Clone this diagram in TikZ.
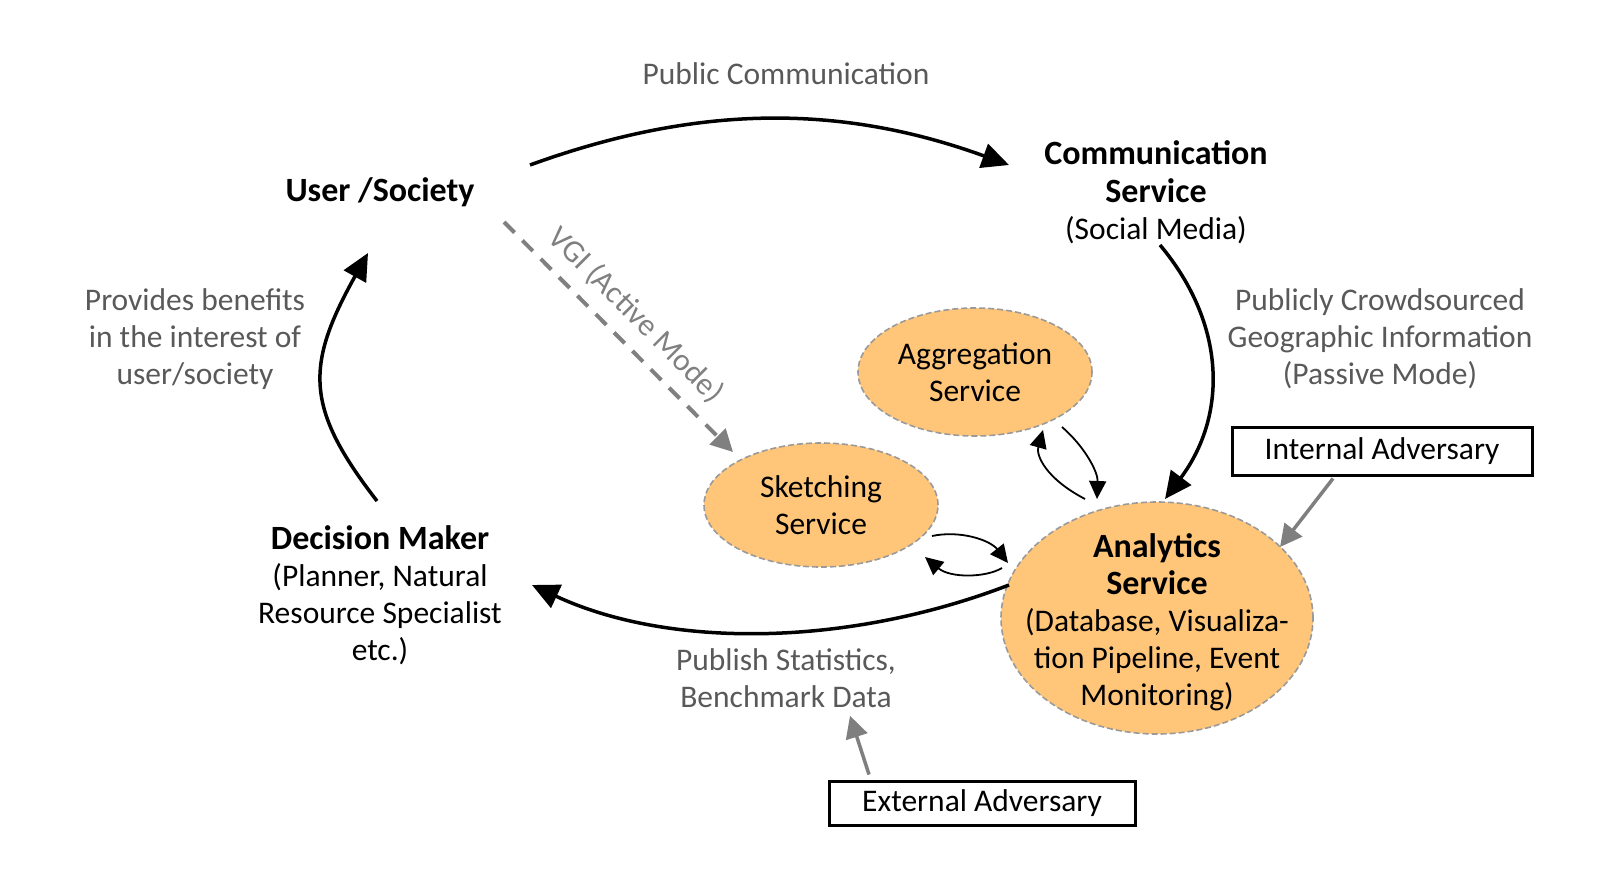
\documentclass[tikz,border=0pt]{standalone}
\usepackage{fontspec}
\setmainfont{Carlito}
\usetikzlibrary{arrows.meta,shapes.geometric,calc}
\definecolor{lblgray}{HTML}{595959}
\definecolor{vgigray}{HTML}{808080}
\definecolor{arrgray}{HTML}{7F7F7F}
\definecolor{svcfill}{HTML}{FFC67A}
\definecolor{svcborder}{HTML}{9A9A9A}
\newcommand{\hdfont}{\fontsize{34}{40}\selectfont\bfseries}
\begin{document}
\begin{tikzpicture}[x=1pt,y=-1pt,
  txt/.style={font=\fontsize{31.5}{37}\selectfont, align=center, inner sep=0pt},
  lbl/.style={txt, text=lblgray},
  hd/.style={font=\hdfont, align=center, inner sep=0pt},
  svc/.style={ellipse, draw=svcborder, dash pattern=on 6pt off 3pt, line width=1.6pt, fill=svcfill, inner sep=0pt, align=center, font=\fontsize{31.5}{37}\selectfont},
  adv/.style={draw=black, line width=3pt, inner sep=0pt, font=\fontsize{31.5}{37}\selectfont},
  flow/.style={line width=3.5pt, -{Triangle[length=27pt,width=25pt]}},
  smallflow/.style={line width=1.8pt, -{Triangle[length=18pt,width=17pt]}},
  grayflow/.style={draw=arrgray, line width=3.5pt, -{Triangle[length=22pt,width=22pt]}},
  vgiflow/.style={draw=vgigray, line width=4pt, dash pattern=on 15pt off 11pt, -{Triangle[length=22pt,width=22pt]}}]
\useasboundingbox (0,0) rectangle (1619,870);

% texts
\node[lbl] (pc) at (786,74) {Public Communication};
\node[hd] (us) at (380,192) {User /Society};
\node[txt] (cs) at (1156,192) {{\hdfont Communication}\\[1pt]{\hdfont Service}\\(Social Media)};
\node[txt] (dm) at (380,595) {{\hdfont Decision Maker}\\(Planner, Natural\\Resource Specialist\\etc.)};
\node[lbl] (pb) at (195,339) {Provides benefits\\in the interest of\\user/society};
\node[lbl] (pcg) at (1380,339) {Publicly Crowdsourced\\Geographic Information\\(Passive Mode)};
\node[lbl] (pub) at (786,678) {Publish Statistics,\\Benchmark Data};

% services
\node[svc, minimum width=234pt, minimum height=128pt] (ag) at (975,372) {Aggregation\\Service};
\node[svc, minimum width=234pt, minimum height=124pt] (sk) at (821,505) {Sketching\\Service};
\node[svc, minimum width=312pt, minimum height=232pt] (an) at (1157,618) {};
\node[txt] (antxt) at (1157,622) {{\hdfont Analytics}\\[0pt]{\hdfont Service}\\(Database, Visualiza-\\tion Pipeline, Event\\Monitoring)};

% adversaries
\node[adv, minimum width=300pt, minimum height=48pt] (ia) at (1382,451) {Internal Adversary};
\node[adv, minimum width=306pt, minimum height=44pt] (ea) at (982,803) {External Adversary};

% connector ends
\coordinate (usR) at (530,165);
\coordinate (csL) at (1009,165);
\coordinate (csB) at (1160,245);
\coordinate (anT) at (1165,499);
\coordinate (anL) at (1009,585);
\coordinate (dmR) at (532,585);
\coordinate (dmT) at (377,501);
\coordinate (usB) at (368,253);
\coordinate (usV) at (504,222);
\coordinate (skT) at (733,452);

% main cycle
\draw[flow] (usR) .. controls (698,104) and (841,104) .. (csL);
\draw[flow] (csB) .. controls (1227,325) and (1227,416) .. (anT);
\draw[flow] (anL) .. controls (845,648) and (667,648) .. (dmR);
\draw[flow] (dmT) .. controls (305,408) and (305,366) .. (usB);

% VGI
\draw[vgiflow] (usV) -- (skT);
\node[txt, text=vgigray, rotate=-45] (vgi) at (636,315) {VGI (Active Mode)};

% small exchanges
\coordinate (a1) at (1085,499); \coordinate (a2) at (1043,430);
\coordinate (b1) at (1062,427); \coordinate (b2) at (1097,499);
\coordinate (c1) at (932,536);  \coordinate (c2) at (1008,563);
\coordinate (d1) at (1002,568); \coordinate (d2) at (925,557);
\draw[smallflow] (a1) .. controls (1045,478) and (1036,455) .. (a2);
\draw[smallflow] (b1) .. controls (1085,447) and (1098,472) .. (b2);
\draw[smallflow] (c1) .. controls (960,530) and (990,540) .. (c2);
\draw[smallflow] (d1) .. controls (985,578) and (950,578) .. (d2);

% adversary arrows
\draw[grayflow] ($(ia.south)+(-49,2)$) -- (1280,547);
\draw[grayflow] ($(ea.north)+(-113,-5)$) -- ($(pub.south)+(64,8)$);
\end{tikzpicture}
\end{document}
